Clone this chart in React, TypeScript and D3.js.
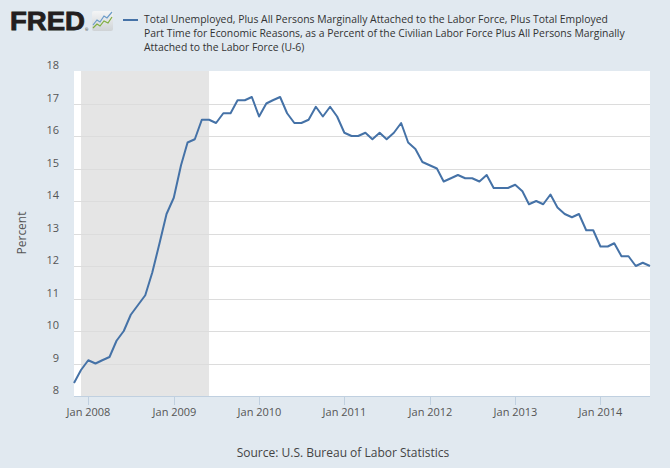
import React from "react";
import * as d3 from "d3";

const startDate = "2007-11-01";
const values2007 = [8.4, 8.8];
const values2008 = [9.1, 9.0, 9.1, 9.2, 9.7, 10.0, 10.5, 10.8, 11.1, 11.8, 12.7, 13.6];
const values2009 = [14.1, 15.1, 15.8, 15.9, 16.5, 16.5, 16.4, 16.7, 16.7, 17.1, 17.1, 17.2];
const values2010 = [16.6, 17.0, 17.1, 17.2, 16.7, 16.4, 16.4, 16.5, 16.9, 16.6, 16.9, 16.6];
const values2011 = [16.1, 16.0, 16.0, 16.1, 15.9, 16.1, 15.9, 16.1, 16.4, 15.8, 15.6, 15.2];
const values2012 = [15.1, 15.0, 14.6, 14.7, 14.8, 14.7, 14.7, 14.6, 14.8, 14.4, 14.4, 14.4];
const values2013 = [14.5, 14.3, 13.9, 14.0, 13.9, 14.2, 13.8, 13.6, 13.5, 13.6, 13.1, 13.1];
const values2014 = [12.6, 12.6, 12.7, 12.3, 12.3, 12.0, 12.1, 12.0];

const yTicks = [8, 9, 10, 11, 12, 13, 14, 15, 16, 17, 18];
const xTickYears = [2008, 2009, 2010, 2011, 2012, 2013, 2014];
const recession = ["2007-12-01", "2009-06-01"];
const legendLines = [
  "Total Unemployed, Plus All Persons Marginally Attached to the Labor Force, Plus Total Employed",
  "Part Time for Economic Reasons, as a Percent of the Civilian Labor Force Plus All Persons Marginally",
  "Attached to the Labor Force (U-6)",
];
const sourceText = "Source: U.S. Bureau of Labor Statistics";
const yLabel = "Percent";

const allValues = [
  ...values2007, ...values2008, ...values2009, ...values2010,
  ...values2011, ...values2012, ...values2013, ...values2014,
];
const parse = d3.utcParse("%Y-%m-%d");
const start = parse(startDate)!;
const data = allValues.map((v, i) => ({ date: d3.utcMonth.offset(start, i), value: v }));

const W = 670;
const H = 468;
const plot = { left: 74, right: 650, top: 71, bottom: 396 };
const font = "'Open Sans', sans-serif";

export default function App() {
  const x = d3
    .scaleUtc()
    .domain([data[0].date, data[data.length - 1].date])
    .range([plot.left, plot.right]);
  const y = d3.scaleLinear().domain([8, 18]).range([plot.bottom, plot.top]);
  const line = d3
    .line<{ date: Date; value: number }>()
    .x((d) => x(d.date))
    .y((d) => y(d.value));
  const r0 = x(parse(recession[0])!);
  const r1 = x(parse(recession[1])!);

  return (
    <svg
      width={W}
      height={H}
      style={{ position: "absolute", left: 0, top: 0, display: "block" }}
      fontFamily={font}
    >
      <defs>
        <linearGradient id="iconGrad" x1="0" y1="0" x2="0" y2="1">
          <stop offset="0" stopColor="#f4f5f6" />
          <stop offset="1" stopColor="#cfd3d6" />
        </linearGradient>
      </defs>
      <rect x={0} y={0} width={W} height={H} fill="#e1e9f0" />

      {/* FRED logo */}
      <text
        x={10}
        y={30}
        fontFamily="'Liberation Sans', Arial, sans-serif"
        fontWeight={900}
        fontSize={25}
        fill="#231f20"
        textLength={75}
        lengthAdjust="spacingAndGlyphs"
        stroke="#231f20"
        strokeWidth={0.8}
      >
        FRED
      </text>
      <text x={85} y={31} fontSize={4} fill="#231f20">®</text>
      <rect x={92} y={11} width={21} height={20} rx={2} fill="url(#iconGrad)" />
      <polyline
        points="93,25 97,20 100,22 104,16 107,18 112,12"
        fill="none"
        stroke="#6a9bc9"
        strokeWidth={1.2}
      />
      <polyline
        points="93,28 97,24 100,26 104,21 108,23 112,17"
        fill="none"
        stroke="#7fae3f"
        strokeWidth={1.2}
      />

      {/* Legend */}
      <line x1={123} x2={138} y1={20} y2={20} stroke="#4572a7" strokeWidth={2} />
      {legendLines.map((t, i) => (
        <text key={i} x={144} y={22.7 + i * 14} fontSize={10.4} fill="#333333">
          {t}
        </text>
      ))}

      {/* Plot area */}
      <rect
        x={plot.left}
        y={plot.top}
        width={plot.right - plot.left}
        height={plot.bottom - plot.top}
        fill="#ffffff"
      />
      <rect x={r0} y={plot.top} width={r1 - r0} height={plot.bottom - plot.top} fill="#e5e5e5" />
      {yTicks
        .filter((t) => t !== 8 && t !== 18)
        .map((t) => (
          <line
            key={t}
            x1={plot.left}
            x2={plot.right}
            y1={Math.round(y(t)) + 0.5}
            y2={Math.round(y(t)) + 0.5}
            stroke="#dcdcdc"
            strokeWidth={1}
          />
        ))}
      <line
        x1={plot.left}
        x2={plot.right}
        y1={plot.bottom + 0.5}
        y2={plot.bottom + 0.5}
        stroke="#c0d0e0"
        strokeWidth={1}
      />
      {xTickYears.map((yr) => {
        const xp = Math.round(x(new Date(Date.UTC(yr, 0, 1)))) + 0.5;
        return (
          <g key={yr}>
            <line x1={xp} x2={xp} y1={plot.bottom} y2={plot.bottom + 9} stroke="#c0d0e0" />
            <text x={xp} y={416} fontSize={11} textAnchor="middle" fill="#555555">
              {`Jan ${yr}`}
            </text>
          </g>
        );
      })}
      {yTicks.map((t) => (
        <text key={t} x={59} y={y(t) - 2} fontSize={11} textAnchor="end" fill="#555555">
          {t}
        </text>
      ))}
      <text
        transform={`translate(26,233) rotate(-90)`}
        fontSize={12}
        textAnchor="middle"
        fill="#555555"
      >
        {yLabel}
      </text>

      <path
        d={line(data) ?? ""}
        fill="none"
        stroke="#4572a7"
        strokeWidth={2}
        strokeLinejoin="round"
      />

      <text x={343} y={457} fontSize={12} textAnchor="middle" fill="#444444">
        {sourceText}
      </text>
    </svg>
  );
}
